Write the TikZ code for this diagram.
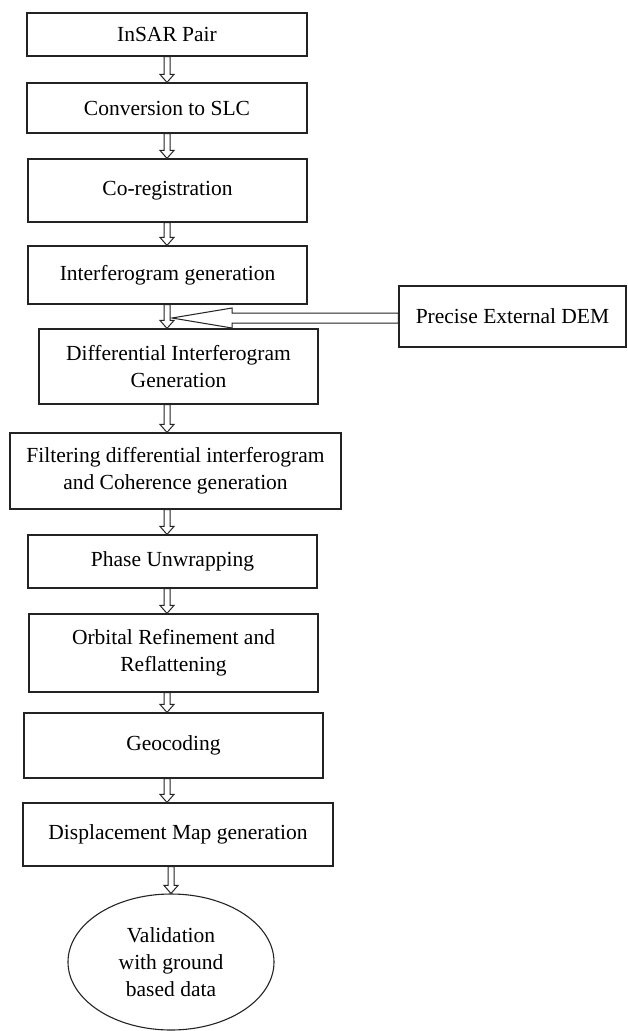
\documentclass[tikz,border=0pt]{standalone}
\usepackage{fontspec}
\setmainfont{Liberation Serif}
\usetikzlibrary{positioning, calc, shapes.geometric}
\definecolor{lineclr}{RGB}{35,35,35}
\tikzset{
    stepbox/.style={rectangle, draw=lineclr, line width=1.2pt, align=center, inner sep=0pt, font=\fontsize{21.5}{27}\selectfont},
    endoval/.style={ellipse, draw=lineclr, line width=1.1pt, align=center, inner sep=0pt, font=\fontsize{21.5}{27}\selectfont},
    blockdown/.style={draw=lineclr, line width=1pt, fill=white, to path={let \p1=(\tikztostart), \p2=(\tikztotarget) in
        (\x1-3pt,\y1) -- (\x1-3pt,\y2+8pt) -- (\x1-7pt,\y2+8pt) -- (\x1,\y2) -- (\x1+7pt,\y2+8pt) -- (\x1+3pt,\y2+8pt) -- (\x1+3pt,\y1) -- cycle}},
    blockleft/.style={draw=lineclr, line width=1pt, fill=white, to path={let \p1=(\tikztostart), \p2=(\tikztotarget) in
        (\x1,\y2+5pt) -- (\x2+60pt,\y2+5pt) -- (\x2+60pt,\y2+10pt) -- (\x2,\y2) -- (\x2+60pt,\y2-10pt) -- (\x2+60pt,\y2-5pt) -- (\x1,\y2-5pt) -- cycle}}
}

\begin{document}
\begin{tikzpicture}[x=1pt, y=-1pt]
    \useasboundingbox (0,0) rectangle (627,1031);
    \coordinate (spine) at (167,0);
    % processing chain
    \node[stepbox, minimum width=280pt, minimum height=43pt] (insar) at (167,34.5) {InSAR Pair};
    \node[stepbox, minimum width=280pt, minimum height=50pt] (slc) at (167,108) {Conversion to SLC};
    \node[stepbox, minimum width=279pt, minimum height=63pt] (coreg) at (167.5,190.5) {Co-registration};
    \node[stepbox, minimum width=279pt, minimum height=58pt] (ifg) at (167.5,275) {Interferogram generation};
    \node[stepbox, minimum width=279pt, minimum height=75pt] (dinsar) at (178.5,366.5) {Differential Interferogram\\Generation};
    \node[stepbox, minimum width=331pt, minimum height=76pt] (filt) at (175.5,471) {Filtering differential interferogram\\and Coherence generation};
    \node[stepbox, minimum width=289pt, minimum height=53pt] (unwrap) at (172.5,561.5) {Phase Unwrapping};
    \node[stepbox, minimum width=289pt, minimum height=78pt] (orbit) at (173.5,653) {Orbital Refinement and\\Reflattening};
    \node[stepbox, minimum width=299pt, minimum height=65pt] (geocode) at (173.5,745.5) {Geocoding};
    \node[stepbox, minimum width=310pt, minimum height=63pt] (dispmap) at (178,834.5) {Displacement Map generation};
    \node[endoval, minimum width=206pt, minimum height=136pt] (valid) at (171,962) {Validation\\with ground\\based data};
    % external input
    \node[stepbox, minimum width=227pt, minimum height=61pt] (dem) at (512.5,316.5) {Precise External DEM};
    \coordinate (demin) at (172,318);

    \draw[blockleft] (dem.west) to (demin);
    \draw[blockdown] (insar.south -| spine) to (slc.north -| spine);
    \draw[blockdown] (slc.south -| spine) to (coreg.north -| spine);
    \draw[blockdown] (coreg.south -| spine) to (ifg.north -| spine);
    \draw[blockdown] (ifg.south -| spine) to (dinsar.north -| spine);
    \draw[blockdown] (dinsar.south -| spine) to (filt.north -| spine);
    \draw[blockdown] (filt.south -| spine) to (unwrap.north -| spine);
    \draw[blockdown] (unwrap.south -| spine) to (orbit.north -| spine);
    \draw[blockdown] (orbit.south -| spine) to (geocode.north -| spine);
    \draw[blockdown] (geocode.south -| spine) to (dispmap.north -| spine);
    \draw[blockdown] (dispmap.south -| valid) to (valid.north);
\end{tikzpicture}
\end{document}
